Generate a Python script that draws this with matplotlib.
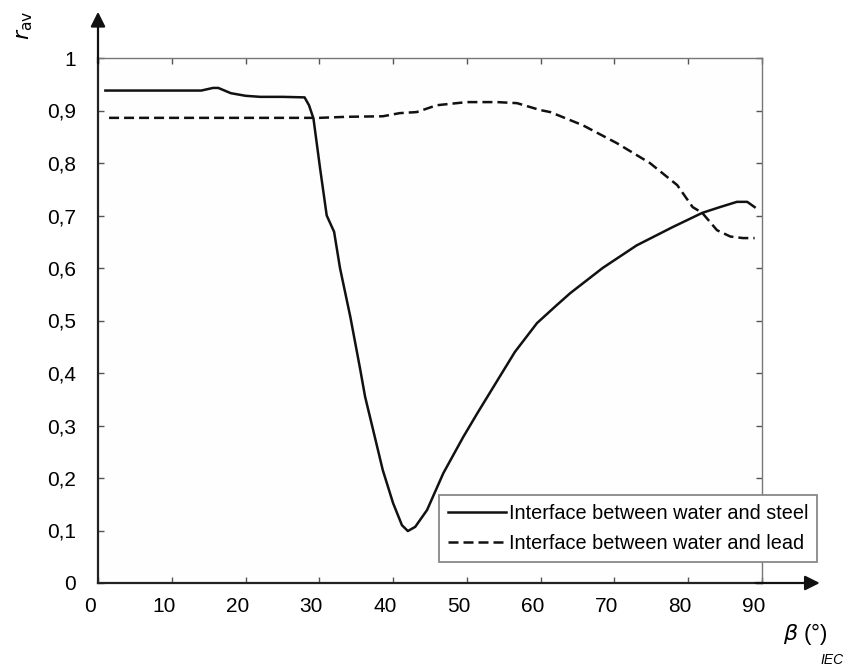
import matplotlib.pyplot as plt
from matplotlib.transforms import ScaledTranslation

plt.rcParams['font.family'] = ['Liberation Sans', 'DejaVu Sans']

# steel curve
steel_x = [1, 14, 15.6, 16.3, 18, 20, 22, 25, 28, 28.6, 29.2, 30.1, 31, 32.0,
           32.8, 34.2, 35.5, 36.2, 37.3, 38.6, 40.0, 41.2, 42.0, 43.0, 44.6, 46.8,
           49.5, 51.4, 54.1, 56.5, 59.5, 62.0, 64.0, 68.4, 73.0, 77.9, 81.9, 84.3,
           86.6, 88.0, 89.0]
steel_y = [0.938, 0.938, 0.943, 0.943, 0.933, 0.928, 0.926, 0.926, 0.925, 0.91,
           0.885, 0.79, 0.70, 0.669, 0.60, 0.507, 0.41, 0.355, 0.291, 0.215, 0.152,
           0.11, 0.099, 0.107, 0.139, 0.209, 0.278, 0.323, 0.385, 0.44, 0.495,
           0.527, 0.552, 0.60, 0.643, 0.678, 0.705, 0.716, 0.726, 0.726, 0.716]

# lead curve
lead_x = [1.5, 10, 20, 30, 33.7, 38.6, 40.9, 43.2, 45.9, 50, 54.1, 56.8, 59.9,
          61.3, 65.7, 70.3, 74.8, 78.5, 80.6, 81.9, 83.9, 85.7, 87.4, 89.0]
lead_y = [0.886, 0.886, 0.886, 0.886, 0.888, 0.889, 0.895, 0.897, 0.910, 0.916,
          0.916, 0.914, 0.901, 0.897, 0.872, 0.838, 0.80, 0.758, 0.716, 0.705,
          0.672, 0.660, 0.657, 0.657]

xticks = [0, 10, 20, 30, 40, 50, 60, 70, 80, 90]
yticks = [0, 0.1, 0.2, 0.3, 0.4, 0.5, 0.6, 0.7, 0.8, 0.9, 1]
ytick_labels = ['0', '0,1', '0,2', '0,3', '0,4', '0,5', '0,6', '0,7', '0,8', '0,9', '1']
labels = ['Interface between water and steel', 'Interface between water and lead']

fig = plt.figure(figsize=(8.53, 6.69), dpi=100)
ax = fig.add_axes([98/853, 86/669, 664/853, 525/669])
ax.set_facecolor('#fefefe')

ax.plot(steel_x, steel_y, color='#111111', lw=1.8, label=labels[0])
ax.plot(lead_x, lead_y, color='#111111', lw=1.8, ls=(0, (4, 2)), label=labels[1])

ax.set_xlim(0, 90)
ax.set_ylim(0, 1)
ax.set_xticks(xticks)
ax.set_yticks(yticks)
ax.set_yticklabels(ytick_labels)
ax.tick_params(direction='in', length=4, width=1, colors='#555555',
               labelcolor='black', labelsize=15, top=True, right=True)
ax.tick_params(axis='x', pad=10)
ax.tick_params(axis='y', pad=16)
for lab in ax.get_xticklabels():
    lab.set_transform(lab.get_transform() + ScaledTranslation(-0.08, 0, fig.dpi_scale_trans))

for s in ['left', 'bottom']:
    ax.spines[s].set_color('#222222')
    ax.spines[s].set_linewidth(1.6)
for s in ['top', 'right']:
    ax.spines[s].set_color('#777777')
    ax.spines[s].set_linewidth(1.0)

# axis arrows
ax.annotate('', xy=(1.087, 0), xytext=(0.99, 0), xycoords='axes fraction',
            arrowprops=dict(arrowstyle='-|>', color='#111111', lw=1.6, mutation_scale=22,
                            shrinkA=0, shrinkB=0), annotation_clip=False)
ax.annotate('', xy=(0, 1.088), xytext=(0, 0.99), xycoords='axes fraction',
            arrowprops=dict(arrowstyle='-|>', color='#111111', lw=1.6, mutation_scale=22,
                            shrinkA=0, shrinkB=0), annotation_clip=False)

leg = ax.legend(loc='lower left', bbox_to_anchor=(0.5136, 0.04), borderaxespad=0,
                fontsize=14.3, frameon=True, fancybox=False, framealpha=1,
                edgecolor='#888888', handlelength=2.9, handletextpad=0.15,
                labelspacing=0.55, borderpad=0.45)
leg.get_frame().set_linewidth(1.3)

fig.text(25/853, 1 - 25/669, r'$r_{\rm av}$', rotation=90, fontsize=16,
         ha='center', va='center')
fig.text(805/853, 1 - 634/669, r'$\beta$ (°)', fontsize=16, ha='center', va='center')
fig.text(832/853, 1 - 660/669, 'IEC', fontsize=10, style='italic',
         ha='center', va='center')

fig.savefig('out.png', dpi=100)
